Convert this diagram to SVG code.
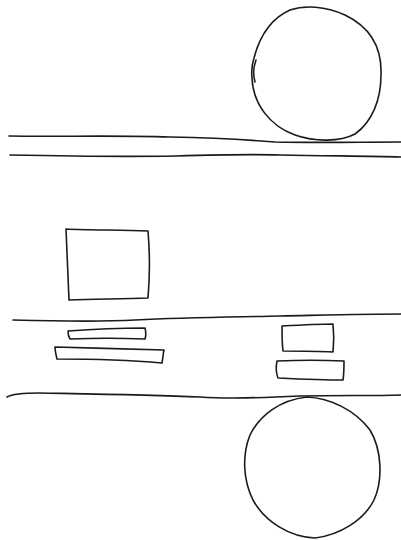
<svg xmlns="http://www.w3.org/2000/svg" width="401" height="540" viewBox="0 0 401 540">
<style>
.s{fill:none;stroke:#1a1a1a;stroke-width:1.6;stroke-linecap:round;stroke-linejoin:round}
</style>
<rect width="401" height="540" fill="#ffffff"/>
<g id="lines">
<path class="s" d="M9,136 C60,137 110,135 170,137 C220,138 250,140 275,142 C320,143 360,142 401,142"/>
<path class="s" d="M10,155 C60,156 120,157 175,156 C210,155 250,154 280,155 C330,156 370,156 401,157"/>
<path class="s" d="M13,320 C50,321 100,322 135,320 C190,317 240,317 280,316 C330,315 370,314 401,314"/>
<path class="s" d="M7,397 C12,394 20,393 40,393 C90,394 150,395 200,397 C230,399 260,398 300,396 C340,395 370,396 401,395"/>
</g>
<g id="circle-top">
<path class="s" d="M290,10 C305,5 325,6 345,15 C372,28 382,50 381,75 C381,100 372,122 355,134 C340,142 315,142 295,135 C270,126 253,104 252,78 C251,68 252,64 254,58 C260,35 272,18 290,10 Z"/>
<path class="s" d="M256,60 C253,68 253,75 255,82"/>
</g>
<g id="square">
<path class="s" d="M66,229 C90,230 120,230 148,231 C150,255 150,275 148,298 C120,299 95,299 69,300 C68,275 67,250 66,229 Z"/>
</g>
<g id="bar-1">
<path class="s" d="M68,331 C95,329 120,328 145,328 C146,332 146,336 145,339 C120,338 95,338 70,339 C68,336 68,333 68,331 Z"/>
</g>
<g id="bar-2">
<path class="s" d="M55,347 C90,348 130,349 164,350 C163,354 163,358 162,363 C128,360 92,359 57,359 C56,355 55,351 55,347 Z"/>
</g>
<g id="box-right">
<path class="s" d="M282,326 C300,325 318,324 333,324 C334,333 334,342 333,352 C316,351 300,351 283,351 C282,343 282,334 282,326 Z"/>
</g>
<g id="bar-right">
<path class="s" d="M277,361 C300,360 322,360 344,361 C344,367 344,374 343,380 C322,380 300,379 278,378 C276,373 276,366 277,361 Z"/>
</g>
<g id="circle-bottom">
<path class="s" d="M307,397 C330,398 355,410 370,430 C382,450 383,480 374,500 C364,520 340,535 315,538 C290,537 265,522 253,500 C243,480 242,455 250,435 C260,415 280,400 307,397 Z"/>
</g>
</svg>
